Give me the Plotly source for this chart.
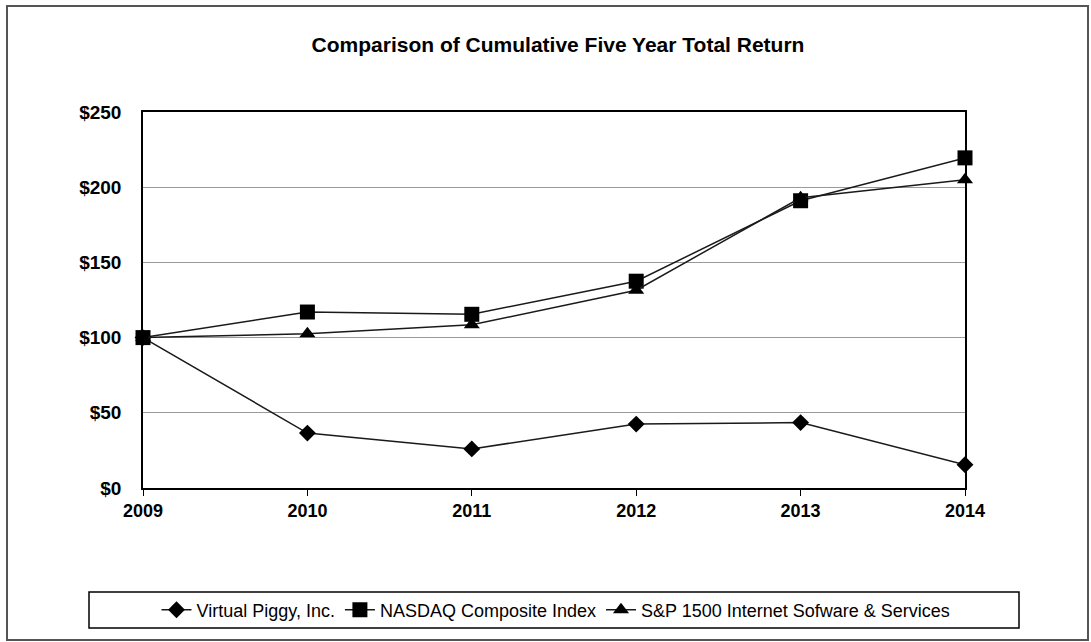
import plotly.graph_objects as go

years = [2009, 2010, 2011, 2012, 2013, 2014]
virtual_piggy = [100, 36.5, 26, 42.5, 43.5, 15.5]
nasdaq = [100, 117, 115.5, 137.5, 191, 219.5]
sp1500 = [100, 102.5, 108.5, 131.5, 193, 205]
series_names = ["Virtual Piggy, Inc.", "NASDAQ Composite Index", "S&P 1500 Internet Sofware & Services"]
y_ticks = [0, 50, 100, 150, 200, 250]
y_tick_labels = ["$0", "$50", "$100", "$150", "$200", "$250"]

W, H = 1091, 642
L, R, T, B = 143, 965, 112, 488
PW, PH = R - L, B - T

def px_x(px):
    return (px - L) / PW

def px_y(py):
    return (B - py) / PH

FONT = "Liberation Sans, Arial, sans-serif"
LINE = "#1a1a1a"

fig = go.Figure()
specs = [
    (virtual_piggy, "diamond", 13),
    (nasdaq, "square", 15),
    (sp1500, "triangle-up", 14),
]
for name, (vals, sym, size) in zip(series_names, specs):
    fig.add_trace(go.Scatter(
        x=years, y=vals, name=name, mode="lines+markers",
        line=dict(color=LINE, width=1.5),
        marker=dict(symbol=sym, size=size, color="black"),
        cliponaxis=False,
    ))

shapes = [
    dict(type="rect", xref="paper", yref="paper",
         x0=px_x(7), x1=px_x(1088), y0=px_y(640), y1=px_y(6),
         line=dict(color="#555555", width=2), layer="below"),
    dict(type="rect", xref="paper", yref="paper",
         x0=px_x(89), x1=px_x(1019), y0=px_y(628), y1=px_y(592),
         line=dict(color="black", width=1.5)),
]

fig.update_layout(
    width=W, height=H,
    margin=dict(l=L, r=W - R, t=T, b=H - B, pad=0, autoexpand=False),
    paper_bgcolor="white", plot_bgcolor="white",
    font=dict(family=FONT, color="black"),
    title=dict(text="<b>Comparison of Cumulative Five Year Total Return</b>",
               x=558 / W, xanchor="center", y=1 - 45 / H, yanchor="middle",
               font=dict(size=21, family=FONT, color="black")),
    showlegend=True,
    legend=dict(orientation="h", x=px_x(556), xanchor="center",
                y=px_y(610), yanchor="middle",
                font=dict(size=18, family=FONT, color="black"),
                bgcolor="rgba(0,0,0,0)", borderwidth=0),
    shapes=shapes,
)

fig.update_xaxes(
    range=[2009, 2014], tickvals=years, ticktext=[str(y) for y in years],
    showgrid=False, zeroline=False,
    showline=True, linecolor="black", linewidth=1.5, mirror=True,
    ticks="outside", ticklen=6, tickcolor="black", tickwidth=1,
    tickfont=dict(size=18, family=FONT, color="black", weight="bold"),
)
fig.update_yaxes(
    range=[0, 250], tickvals=y_ticks, ticktext=y_tick_labels,
    showgrid=True, gridcolor="#9a9a9a", gridwidth=1,
    zeroline=False,
    showline=True, linecolor="black", linewidth=1.5, mirror=True,
    ticks="", ticklabelstandoff=16,
    tickfont=dict(size=19, family=FONT, color="black", weight="bold"),
)

fig.write_html("out.html")
